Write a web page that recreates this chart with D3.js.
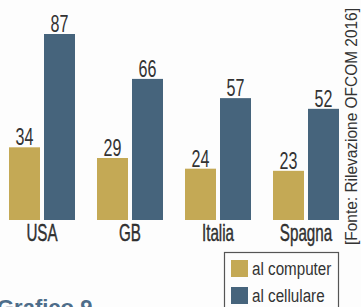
<!DOCTYPE html>
<html>
<head>
<meta charset="utf-8">
<script src="https://cdn.jsdelivr.net/npm/d3@7"></script>
<style>
  body { margin: 0; background: #fdfdfd; }
  svg { display: block; }
  text { font-family: "Liberation Sans", Arial, sans-serif; fill: #333; }
</style>
</head>
<body>
<div id="chart"></div>
<script>
// data
var paesi = ["USA", "GB", "Italia", "Spagna"];
var serie = ["al computer", "al cellulare"];
var computer = [34, 29, 24, 23];
var cellulare = [87, 66, 57, 52];
var colori = ["#c4a955", "#46647c"];
var fonte = "[Fonte: Rilevazione OFCOM 2016]";

var width = 361, height = 307;

var data = paesi.map(function (p, i) {
    return { paese: p, values: [computer[i], cellulare[i]] };
});

var svg = d3.select("#chart")
    .append("svg")
    .attr("width", width)
    .attr("height", height);

// groups
var x0 = d3.scaleBand()
    .domain(paesi)
    .range([-2, 350])
    .paddingInner(0.25)
    .paddingOuter(0.125);

var x1 = d3.scaleBand()
    .domain(serie)
    .range([0, x0.bandwidth()])
    .paddingInner(4 / 35);

var y = d3.scaleLinear()
    .domain([0, 87])
    .range([220, 34]);

var gruppi = svg.selectAll("g.gruppo")
    .data(data)
    .enter().append("g")
    .attr("class", "gruppo")
    .attr("transform", function (d) { return "translate(" + x0(d.paese) + ",0)"; });

var barre = gruppi.selectAll("g.barra")
    .data(function (d) { return d.values.map(function (v, j) { return { s: serie[j], v: v, j: j }; }); })
    .enter().append("g")
    .attr("class", "barra");

barre.append("rect")
    .attr("x", function (d) { return x1(d.s); })
    .attr("y", function (d) { return y(d.v); })
    .attr("width", x1.bandwidth())
    .attr("height", function (d) { return y(0) - y(d.v); })
    .attr("fill", function (d) { return colori[d.j]; });

// condensed look: squeeze the glyphs horizontally
barre.append("text")
    .attr("transform", function (d) {
        return "translate(" + (x1(d.s) + x1.bandwidth() / 2) + "," + (y(d.v) - 2) + ") scale(0.7,1)";
    })
    .attr("text-anchor", "middle")
    .style("font-size", "23px")
    .text(function (d) { return d.v; });

// x axis labels
var xAxis = svg.append("g")
    .attr("transform", "translate(0," + y(0) + ")")
    .call(d3.axisBottom(x0).tickSize(0).tickPadding(5));
xAxis.attr("font-family", null).attr("font-size", null);
xAxis.select(".domain").remove();
xAxis.selectAll("text")
    .attr("transform", "scale(0.66,1)")
    .style("font-size", "23px")
    .style("stroke", "#222")
    .style("stroke-width", 0.4)
    .attr("fill", "#222");

// source
svg.append("text")
    .attr("transform", "translate(357,245) rotate(-90)")
    .attr("textLength", 237)
    .attr("lengthAdjust", "spacingAndGlyphs")
    .style("font-size", "16px")
    .text(fonte);

// legend
var legenda = svg.append("g").attr("transform", "translate(224,252)");
legenda.append("rect")
    .attr("x", 0.5).attr("y", 0.5)
    .attr("width", 114).attr("height", 70)
    .attr("fill", "#fdfdfd")
    .attr("stroke", "#555")
    .attr("stroke-width", 1.2);
var voci = legenda.selectAll("g.voce")
    .data(serie)
    .enter().append("g")
    .attr("transform", function (d, i) { return "translate(7," + (8 + i * 27) + ")"; });
voci.append("rect")
    .attr("width", 17).attr("height", 17)
    .attr("fill", function (d, i) { return colori[i]; });
voci.append("text")
    .attr("transform", "translate(21,15) scale(0.8,1)")
    .style("font-size", "19px")
    .text(function (d) { return d; });

// title, cut off at the bottom as in the original page
svg.append("text")
    .attr("x", -3).attr("y", 315)
    .style("font-weight", "bold")
    .style("font-size", "22px")
    .style("fill", "#4e6d8a")
    .text("Grafico 9");
</script>
</body>
</html>
